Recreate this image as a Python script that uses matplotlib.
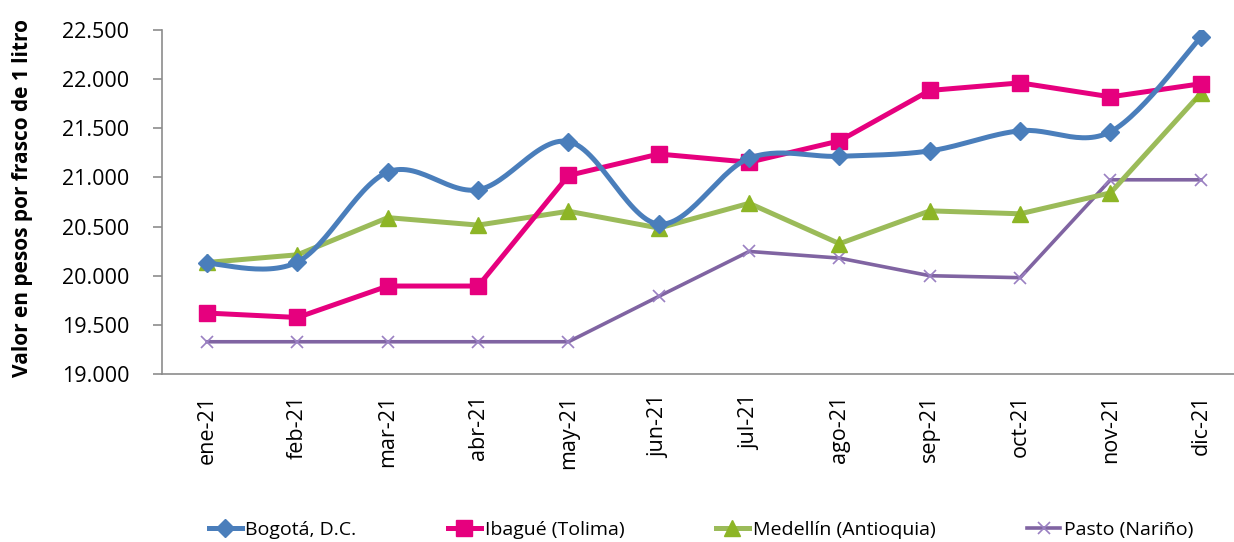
import numpy as np
import matplotlib
matplotlib.use("Agg")
import matplotlib.pyplot as plt
from matplotlib.ticker import FuncFormatter

plt.rcParams['font.family'] = ['Open Sans', 'DejaVu Sans']

# datos (pesos por frasco de 1 litro)
meses = ['ene-21', 'feb-21', 'mar-21', 'abr-21', 'may-21', 'jun-21',
         'jul-21', 'ago-21', 'sep-21', 'oct-21', 'nov-21', 'dic-21']
bogota = [20125, 20140, 21055, 20875, 21365, 20525,
          21195, 21215, 21270, 21475, 21465, 22425]
ibague = [19620, 19575, 19895, 19895, 21020, 21238,
          21155, 21372, 21885, 21962, 21820, 21953]
medellin = [20135, 20213, 20591, 20515, 20656, 20485,
            20737, 20326, 20660, 20630, 20843, 21855]
pasto = [19328, 19328, 19328, 19328, 19328, 19790,
         20247, 20179, 20000, 19980, 20976, 20976]


def suavizar(y, n=30):
    # curva suavizada tipo Excel (bezier con tangentes catmull-rom)
    x = np.arange(len(y), dtype=float)
    y = np.asarray(y, dtype=float)
    px, py = [], []
    for i in range(len(y) - 1):
        i0 = max(i - 1, 0)
        i3 = min(i + 2, len(y) - 1)
        c1x = x[i] + (x[i + 1] - x[i0]) / 6
        c1y = y[i] + (y[i + 1] - y[i0]) / 6
        c2x = x[i + 1] - (x[i3] - x[i]) / 6
        c2y = y[i + 1] - (y[i3] - y[i]) / 6
        t = np.linspace(0, 1, n)
        a, b, c, d = (1 - t) ** 3, 3 * (1 - t) ** 2 * t, 3 * (1 - t) * t ** 2, t ** 3
        px.extend(a * x[i] + b * c1x + c * c2x + d * x[i + 1])
        py.extend(a * y[i] + b * c1y + c * c2y + d * y[i + 1])
    return np.array(px), np.array(py)


fig = plt.figure(figsize=(12.34, 5.42), dpi=100)
ax = fig.add_axes([162 / 1234, 1 - 374 / 542, 1084 / 1234, 344 / 542])

x = np.arange(len(meses))

azul = '#4A7EBB'
sx, sy = suavizar(bogota)
ax.plot(sx, sy, color=azul, lw=3.6, solid_capstyle='round', zorder=4)
ax.plot(x, bogota, ls='none', marker='D', ms=9, color=azul, zorder=5)
ax.plot([], [], color=azul, lw=3.6, marker='D', ms=9, label='Bogotá, D.C.')

ax.plot(x, ibague, color='#E6007E', lw=3.6, marker='s', ms=11,
        label='Ibagué (Tolima)', zorder=3)
ax.plot(x, medellin, color='#9BBB59', lw=3.6, marker='^', ms=11,
        mfc='#8DB526', mec='#8DB526', label='Medellín (Antioquia)', zorder=2)
ax.plot(x, pasto, color='#8064A2', lw=2.6, marker='x', ms=8, mew=1.2,
        mec='#9A80C2', label='Pasto (Nariño)', zorder=1)

ax.set_xlim(-0.5, 11.5)
ax.set_ylim(19000, 22500)
ax.set_yticks(np.arange(19000, 22501, 500))
ax.yaxis.set_major_formatter(FuncFormatter(lambda v, p: f'{v:,.0f}'.replace(',', '.')))
ax.set_xticks(x)
ax.set_xticklabels(meses, rotation=90)

for s in ['top', 'right']:
    ax.spines[s].set_visible(False)
for s in ['left', 'bottom']:
    ax.spines[s].set_color('#8C8C8C')
    ax.spines[s].set_linewidth(1.2)
ax.tick_params(axis='y', direction='out', length=6.5, width=1.2, color='#8C8C8C',
               labelsize=15.5, pad=17)
ax.tick_params(axis='x', length=0, labelsize=15.5, pad=15)

fig.text(23 / 1234, 1 - 198 / 542, 'Valor en pesos por frasco de 1 litro',
         rotation=90, ha='center', va='center', fontsize=15, fontweight='bold')

fig.legend(loc='center', bbox_to_anchor=(0.568, 1 - 530 / 542), ncol=4,
           frameon=False, fontsize=14, handlelength=1.7, handletextpad=0.2,
           columnspacing=4.7, borderaxespad=0)

fig.savefig('out.png', dpi=100)
